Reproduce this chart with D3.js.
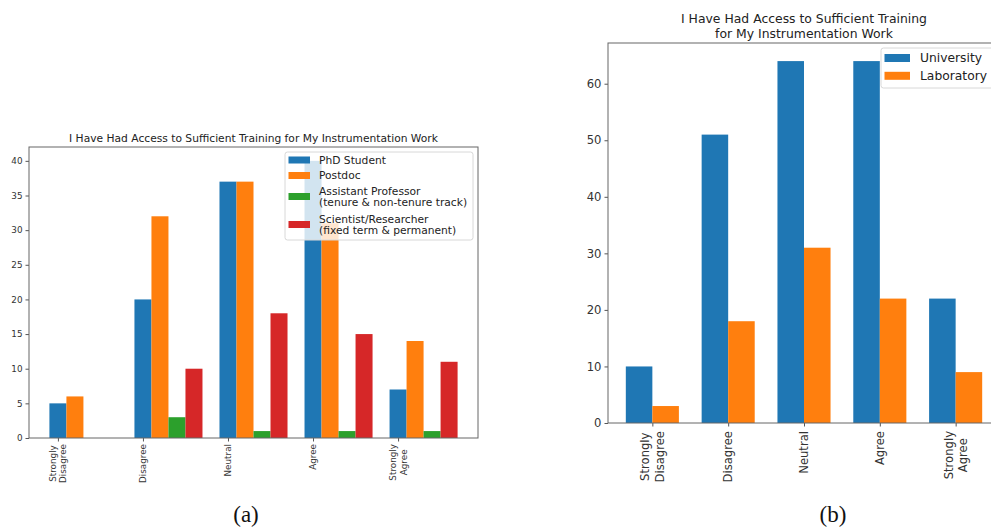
<!DOCTYPE html>
<html><head><meta charset="utf-8">
<script src="https://cdn.jsdelivr.net/npm/d3@7"></script>
<style>body{margin:0;background:#fff}svg{display:block}</style>
</head><body>
<script>
// ---- data ----
const categories = ["Strongly\nDisagree", "Disagree", "Neutral", "Agree", "Strongly\nAgree"];
const roleNames = ["PhD Student", "Postdoc", "Assistant Professor\n(tenure & non-tenure track)", "Scientist/Researcher\n(fixed term & permanent)"];
const phdStudent = [5, 20, 37, 40, 7];
const postdoc = [6, 32, 37, 31, 14];
const assistantProfessor = [0, 3, 1, 1, 1];
const scientistResearcher = [0, 10, 18, 15, 11];
const leftTicks = [0, 5, 10, 15, 20, 25, 30, 35, 40];

const placeNames = ["University", "Laboratory"];
const university = [10, 51, 64, 64, 22];
const laboratory = [3, 18, 31, 22, 9];
const rightTicks = [0, 10, 20, 30, 40, 50, 60];

const titleA = "I Have Had Access to Sufficient Training for My Instrumentation Work";
const titleB = ["I Have Had Access to Sufficient Training", "for My Instrumentation Work"];
const colors = ["#1f77b4", "#ff7f0e", "#2ca02c", "#d62728"];

const W = 991, H = 530;
const svg = d3.select("body").append("svg").attr("width", W).attr("height", H);
const FONT = "DejaVu Sans";

function panel(cfg) {
  const g = svg.append("g");
  const x = d3.scaleLinear().domain(cfg.xDomain).range([cfg.left, cfg.right]);
  const y = d3.scaleLinear().domain([0, cfg.yMax]).range([cfg.bottom, cfg.top]);
  const n = cfg.series.length;
  // bars
  cfg.series.forEach((vals, j) => {
    g.append("g").selectAll("rect").data(vals).join("rect")
      .attr("x", (d, i) => x(i + cfg.offset(j) - cfg.barW / 2))
      .attr("width", x(cfg.barW) - x(0))
      .attr("y", d => y(d))
      .attr("height", d => y(0) - y(d))
      .attr("fill", colors[j]);
  });
  // y axis
  const ya = g.append("g").attr("transform", `translate(${cfg.left},0)`)
    .call(d3.axisLeft(y).tickValues(cfg.yTicks).tickSize(3.5).tickPadding(3));
  ya.select(".domain").remove();
  ya.selectAll("line").attr("stroke", "#555");
  ya.selectAll("text").attr("font-family", FONT).attr("font-size", cfg.tickFont).attr("fill", "#333");
  // x ticks
  const xa = g.append("g").attr("transform", `translate(0,${cfg.bottom})`)
    .call(d3.axisBottom(x).tickValues(d3.range(categories.length)).tickSize(3.5).tickFormat(""));
  xa.select(".domain").remove();
  xa.selectAll("line").attr("stroke", "#555");
  // x tick labels, rotated
  categories.forEach((c, i) => {
    const lines = c.split("\n");
    const texts = lines.map((ln, k) => g.append("text").text(ln)
      .attr("font-family", FONT).attr("font-size", cfg.tickFont).attr("fill", "#333")
      .attr("text-anchor", "middle"));
    const maxLen = d3.max(texts, t => t.node().getComputedTextLength());
    texts.forEach((t, k) => {
      const dx = (k - (lines.length - 1) / 2) * cfg.tickFont * 1.22;
      t.attr("transform", `translate(${x(i) + dx},${cfg.labelTop + maxLen / 2}) rotate(-90)`)
        .attr("dy", "0.36em");
    });
  });
  // spines
  g.append("rect").attr("x", cfg.left).attr("y", cfg.top)
    .attr("width", cfg.right - cfg.left).attr("height", cfg.bottom - cfg.top)
    .attr("fill", "none").attr("stroke", "#666").attr("stroke-width", 1);
  // title
  cfg.title.forEach((t, k) => g.append("text").text(t)
    .attr("x", (cfg.left + cfg.right) / 2).attr("y", cfg.titleY + k * cfg.titleFont * 1.2)
    .attr("text-anchor", "middle").attr("font-family", FONT)
    .attr("font-size", cfg.titleFont).attr("fill", "#222"));
  // legend
  const L = cfg.legend;
  g.append("rect").attr("x", L.x0).attr("y", L.y0).attr("width", L.x1 - L.x0).attr("height", L.y1 - L.y0)
    .attr("rx", 2.5).attr("fill", "#fff").attr("fill-opacity", 0.8).attr("stroke", "#d8d8d8");
  L.names.forEach((nm, j) => {
    const lines = nm.split("\n");
    const cy = L.rows[j];
    g.append("rect").attr("x", L.hx).attr("y", cy - L.hh / 2).attr("width", L.hw).attr("height", L.hh)
      .attr("fill", colors[j]);
    lines.forEach((ln, k) => g.append("text").text(ln)
      .attr("x", L.tx).attr("y", cy + (k - (lines.length - 1) / 2) * L.font * 1.05)
      .attr("dy", "0.36em").attr("font-family", FONT).attr("font-size", L.font).attr("fill", "#222"));
  });
  // caption
  svg.append("text").text(cfg.caption).attr("x", cfg.capX).attr("y", 522)
    .attr("text-anchor", "middle").attr("font-family", "Liberation Serif")
    .attr("font-size", 23).attr("fill", "#111");
}

panel({
  series: [phdStudent, postdoc, assistantProfessor, scientistResearcher],
  xDomain: [-0.34, 4.94], left: 29, right: 478, top: 147, bottom: 438, yMax: 42,
  barW: 0.2, offset: j => j * 0.2, yTicks: leftTicks, tickFont: 8.8, labelTop: 444,
  title: [titleA], titleY: 142, titleFont: 10.7,
  legend: { names: roleNames, x0: 285, x1: 473, y0: 152, y1: 240, hx: 288.5, hw: 21.5, hh: 7,
            tx: 319, font: 10.7, rows: [160, 175.5, 196.5, 224.5] },
  caption: "(a)", capX: 246
});

panel({
  series: [university, laboratory],
  xDomain: [-0.585, 4.585], left: 608, right: 1000, top: 43, bottom: 423, yMax: 67.2,
  barW: 0.35, offset: j => (j - 0.5) * 0.35, yTicks: rightTicks, tickFont: 11.6, labelTop: 431,
  title: titleB, titleY: 23, titleFont: 12.4,
  legend: { names: placeNames, x0: 881, x1: 996, y0: 48, y1: 88, hx: 884.5, hw: 25.5, hh: 8,
            tx: 920, font: 12.3, rows: [58, 75.8] },
  caption: "(b)", capX: 833
});
</script>
</body></html>
